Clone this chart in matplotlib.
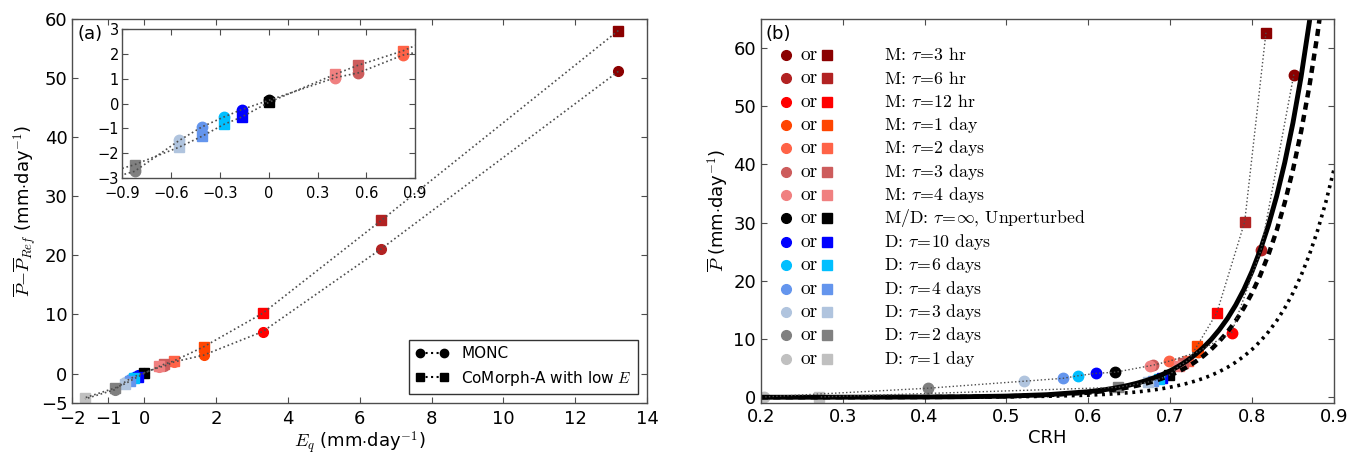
import numpy as np
import matplotlib.pyplot as plt
from matplotlib.lines import Line2D

plt.rcParams['mathtext.fontset'] = 'cm'
plt.rcParams['axes.unicode_minus'] = True

# === 1. Datos ===
# orden: M 3hr, 6hr, 12hr, 1d, 2d, 3d, 4d, inf, D 10d, 6d, 4d, 3d, 2d, 1d
colores = ['#8B0000', '#B22222', '#FF0000', '#FF4500', '#FF6347', '#CD5C5C', '#F08080',
           '#000000', '#0000FF', '#00BFFF', '#6495ED', '#B0C4DE', '#808080', '#C0C0C0']

etiquetas = [r'M: $\tau\!=\!3$ hr', r'M: $\tau\!=\!6$ hr', r'M: $\tau\!=\!12$ hr',
             r'M: $\tau\!=\!1$ day', r'M: $\tau\!=\!2$ days', r'M: $\tau\!=\!3$ days',
             r'M: $\tau\!=\!4$ days', r'M/D: $\tau\!=\!\infty$, Unperturbed',
             r'D: $\tau\!=\!10$ days', r'D: $\tau\!=\!6$ days', r'D: $\tau\!=\!4$ days',
             r'D: $\tau\!=\!3$ days', r'D: $\tau\!=\!2$ days', r'D: $\tau\!=\!1$ day']

# panel (a)
eq = [13.2, 6.6, 3.3, 1.65, 0.825, 0.55, 0.41, 0.0,
      -0.165, -0.275, -0.41, -0.55, -0.825, -1.65]
dp_monc = [51.1, 21.1, 7.1, 3.1, 1.96, 1.24, 1.05, 0.13,
           -0.24, -0.54, -0.94, -1.49, -2.74, -4.3]
dp_comorph = [58.0, 25.9, 10.2, 4.5, 2.13, 1.55, 1.19, 0.05,
              -0.54, -0.84, -1.32, -1.76, -2.47, -4.1]

# panel (b)
crh_monc = [0.851, 0.811, 0.775, 0.734, 0.699, 0.679, 0.675, 0.633,
            0.609, 0.588, 0.569, 0.521, 0.404, 0.204]
p_monc = [55.4, 25.3, 11.1, 7.8, 6.2, 5.5, 5.4, 4.3,
          4.1, 3.7, 3.25, 2.75, 1.55, 0.05]
crh_comorph = [0.817, 0.791, 0.757, 0.733, 0.722, 0.716, 0.711, 0.699,
               0.690, 0.686, 0.679, 0.673, 0.636, 0.271]
p_comorph = [62.6, 30.1, 14.5, 8.85, 6.3, 5.8, 5.4, 3.8,
             3.3, 3.1, 2.85, 2.6, 1.7, 0.05]

# curvas de referencia
crh_curva = [0.2, 0.3, 0.4, 0.45, 0.5, 0.55, 0.6, 0.61, 0.62, 0.63, 0.64, 0.65,
             0.66, 0.67, 0.68, 0.69, 0.70, 0.71, 0.72, 0.73, 0.74, 0.75, 0.76,
             0.77, 0.78, 0.79, 0.80, 0.81, 0.82, 0.83, 0.84, 0.85, 0.86, 0.87,
             0.88, 0.89, 0.90]
p_solida = [0.002, 0.009, 0.042, 0.092, 0.20, 0.44, 0.95, 1.12, 1.30, 1.52, 1.78, 2.08,
            2.43, 2.84, 3.32, 3.88, 4.54, 5.31, 6.20, 7.25, 8.47, 9.90, 11.58,
            13.53, 15.82, 18.49, 21.61, 25.25, 29.52, 34.50, 40.32, 47.13, 55.08, 64.38,
            75.25, 87.96, 102.8]
p_guiones = [0.002, 0.007, 0.035, 0.076, 0.166, 0.36, 0.79, 0.93, 1.08, 1.26, 1.48, 1.72,
             2.01, 2.35, 2.75, 3.22, 3.76, 4.40, 5.14, 6.01, 7.02, 8.21, 9.60,
             11.22, 13.11, 15.33, 17.91, 20.93, 24.47, 28.60, 33.43, 39.07, 45.66, 53.37,
             62.38, 72.92, 85.22]
p_puntos = [0.001, 0.003, 0.016, 0.035, 0.076, 0.17, 0.36, 0.43, 0.49, 0.58, 0.68, 0.79,
            0.92, 1.08, 1.26, 1.47, 1.73, 2.02, 2.36, 2.76, 3.22, 3.76, 4.40,
            5.14, 6.01, 7.03, 8.21, 9.60, 11.22, 13.11, 15.32, 17.91, 20.93, 24.46,
            28.60, 33.43, 39.06]

xt_a = [-2, -1, 0, 2, 4, 6, 8, 10, 12, 14]
yt_a = [-5, 0, 10, 20, 30, 40, 50, 60]
xt_in = [-0.9, -0.6, -0.3, 0, 0.3, 0.6, 0.9]
xt_in_lab = ['\u22120.9', '\u22120.6', '\u22120.3', '0', '0.3', '0.6', '0.9']
yt_in = [-3, -2, -1, 0, 1, 2, 3]
xt_b = [0.2, 0.3, 0.4, 0.5, 0.6, 0.7, 0.8, 0.9]
yt_b = [0, 10, 20, 30, 40, 50, 60]


def estilo(ax, fs):
    ax.tick_params(direction='in', top=True, right=True, length=4, width=0.8,
                   labelsize=fs, color='0.3')
    for s in ax.spines.values():
        s.set_color('0.3')
        s.set_linewidth(1.0)


def puntos(ax, x, y, ms=7):
    for xi, yi, c in zip(x, y, colores):
        ax.plot(xi, yi, 'o', color=c, ms=ms, mec=c, zorder=2)


def cuadros(ax, x, y, ms=7):
    for xi, yi, c in zip(x, y, colores):
        ax.plot(xi, yi, 's', color=c, ms=ms, mec=c, zorder=2)


# === 2. Figura ===
fig = plt.figure(figsize=(13.49, 4.57), dpi=100)
ax1 = fig.add_axes([0.0537, 0.118, 0.426, 0.841])
ax2 = fig.add_axes([0.564, 0.118, 0.4248, 0.841])
axin = fig.add_axes([0.0907, 0.611, 0.217, 0.3247])

# --- panel (a) ---
for ax in (ax1, axin):
    ms = 7 if ax is ax1 else 7.5
    puntos(ax, eq, dp_monc, ms)
    cuadros(ax, eq, dp_comorph, ms)
    ax.plot(eq, dp_monc, ':', color='0.3', lw=1.2, zorder=3)
    ax.plot(eq, dp_comorph, ':', color='0.3', lw=1.2, zorder=3)

ax1.set_xlim(-2, 14)
ax1.set_ylim(-5, 60)
ax1.set_xticks(xt_a)
ax1.set_yticks(yt_a)
estilo(ax1, 13)
ax1.tick_params(axis='x', pad=5)
ax1.set_xlabel(r'$E_q$ (mm$\cdot$day$^{-1}$)', fontsize=13, labelpad=1)
ax1.set_ylabel(r'$\overline{P}$$-$$\overline{P}_{Ref}$ (mm$\cdot$day$^{-1}$)', fontsize=13, labelpad=2)
ax1.text(0.008, 0.985, '(a)', transform=ax1.transAxes, fontsize=13, va='top', ha='left')

h1 = Line2D([], [], color='black', ls=':', marker='o', ms=6)
h2 = Line2D([], [], color='black', ls=':', marker='s', ms=6)
leg = ax1.legend([h1, h2], ['MONC', r'CoMorph-A with low $E$'], loc='lower right',
                 numpoints=2, fontsize=11, fancybox=False, framealpha=1,
                 borderaxespad=0.6, handlelength=2.2)
leg.get_frame().set_edgecolor('0.2')

axin.set_xlim(-0.9, 0.9)
axin.set_ylim(-3, 3)
axin.set_xticks(xt_in)
axin.set_xticklabels(xt_in_lab)
axin.set_yticks(yt_in)
estilo(axin, 10.5)
axin.tick_params(axis='x', pad=6)
axin.tick_params(axis='y', pad=2.5)

# --- panel (b) ---
ax2.plot(crh_curva, p_solida, '-', color='black', lw=3.5, zorder=2.5)
ax2.plot(crh_curva, p_guiones, color='black', lw=3.2, ls=(0, (1.6, 1.2)), zorder=2.5)
ax2.plot(crh_curva, p_puntos, color='black', lw=2.6, ls=(0, (0.8, 1.3)), zorder=2.5)

puntos(ax2, crh_monc, p_monc, 7.5)
cuadros(ax2, crh_comorph, p_comorph, 7.5)
ax2.plot(crh_monc, p_monc, ':', color='0.3', lw=1.0, zorder=3)
ax2.plot(crh_comorph, p_comorph, ':', color='0.3', lw=1.0, zorder=3)

ax2.set_xlim(0.2, 0.9)
ax2.set_ylim(-1, 65)
ax2.set_xticks(xt_b)
ax2.set_yticks(yt_b)
estilo(ax2, 13)
ax2.set_xlabel('CRH', fontsize=13, labelpad=2)
ax2.set_ylabel(r'$\overline{P}$ (mm$\cdot$day$^{-1}$)', fontsize=13, labelpad=2)
ax2.text(0.008, 0.985, '(b)', transform=ax2.transAxes, fontsize=13, va='top', ha='left')

# leyenda manual de (b)
y0 = 0.906
dy = 0.0608
for i, (c, lab) in enumerate(zip(colores, etiquetas)):
    yy = y0 - i * dy
    ax2.plot(0.0436, yy, 'o', color=c, mec=c, ms=7, transform=ax2.transAxes, clip_on=False)
    ax2.text(0.069, yy, 'or', transform=ax2.transAxes, fontsize=14,
             family='cmr10', va='center', ha='left')
    ax2.plot(0.116, yy, 's', color=c, mec=c, ms=7, transform=ax2.transAxes, clip_on=False)
    ax2.text(0.215, yy, lab, transform=ax2.transAxes, fontsize=12.8,
             family='cmr10', va='center', ha='left')

plt.savefig('out.png', dpi=100)
